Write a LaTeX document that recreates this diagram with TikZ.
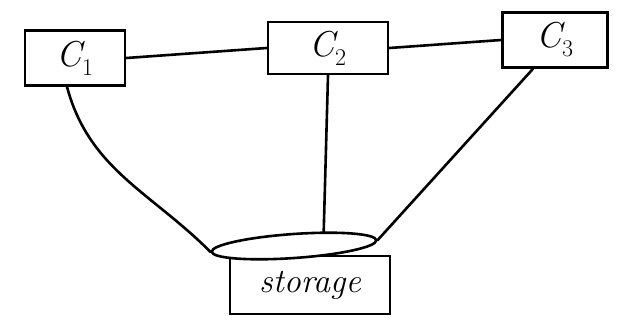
\documentclass[tikz,border=0pt]{standalone}
\usepackage{fontspec}
\usetikzlibrary{shapes.geometric}
\newcommand{\cname}[1]{{\itshape C}\raisebox{-0.25em}{\fontsize{24}{26}\selectfont #1}}
\begin{document}
\begin{tikzpicture}[x=1pt,y=-1pt,line width=2.6pt,
  ink/.style={line width=2.6pt,draw=black},
  cbox/.style={ink,rectangle,inner sep=0pt,font=\fontsize{36}{38}\selectfont},
  link/.style={ink,line cap=round}]
\useasboundingbox[fill=white,draw=none] (0,0) rectangle (620,326);
\node[cbox,minimum width=100pt,minimum height=55pt] (c1) at (75,58) {\cname{1}};
\node[cbox,minimum width=120pt,minimum height=52pt] (c2) at (328,48) {\cname{2}};
\node[cbox,minimum width=105pt,minimum height=55pt] (c3) at (555,40) {\cname{3}};
\node[ink,rectangle,minimum width=160pt,minimum height=58pt,inner sep=0pt,font=\fontsize{34}{36}\selectfont\itshape] (st) at (310,285) {storage};
\node[ink,ellipse,fill=white,minimum width=165pt,minimum height=24pt,inner sep=0pt,rotate=4] (top) at (294,246) {};
\draw[link] (c1.east) -- (c2.west);
\draw[link] (c2.east) -- (c3.west);
\draw[link] ([xshift=-8pt]c1.south) to[out=-75,in=135] (top.west);
\draw[link] (c2.south) -- (top.22);
\draw[link] ([xshift=-22pt]c3.south) -- (top.east);
\end{tikzpicture}
\end{document}
